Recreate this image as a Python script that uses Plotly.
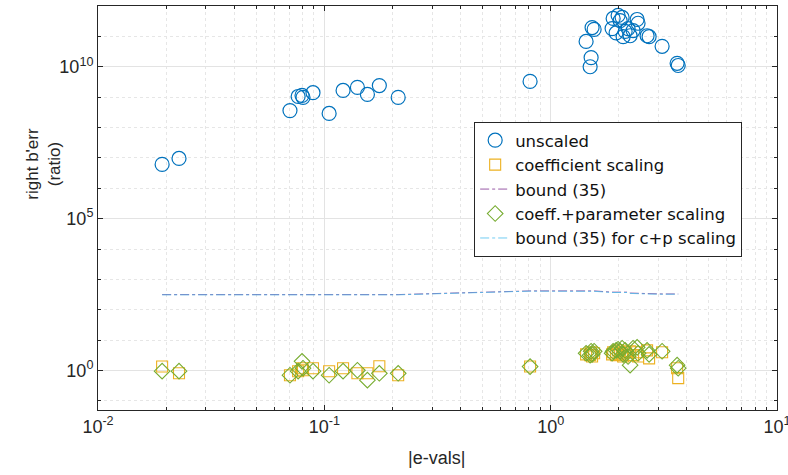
import plotly.graph_objects as go

# eigenvalue magnitudes (|e-vals|)
evals = [0.0192, 0.0228,
         0.0705, 0.0766, 0.0797, 0.0805, 0.0891, 0.105, 0.121, 0.140, 0.155, 0.175, 0.212,
         0.811,
         1.434, 1.494, 1.509, 1.524, 1.556, 1.868, 1.888, 1.946, 1.986, 2.027, 2.069, 2.090,
         2.133, 2.198, 2.244, 2.313, 2.410, 2.433, 2.667, 2.722, 3.107, 3.62, 3.66]

unscaled = [6.1e6, 9.6e6,
            3.6e8, 1.05e9, 1.14e9, 9.8e8, 1.4e9, 2.9e8, 1.66e9, 2.09e9, 1.23e9, 2.4e9, 9.8e8,
            3.3e9,
            6.8e10, 1.0e10, 2.0e10, 1.95e11, 1.7e11, 1.8e11, 3.9e11, 1.3e11, 4.9e11, 3.3e11, 4.2e11, 9.8e10,
            1.45e11, 1.8e11, 1.05e11, 1.55e11, 3.6e11, 2.7e11, 1.05e11, 9.8e10, 4.7e10, 1.3e10, 1.1e10]

coef_scaling = [1.35, 0.81,
                0.70, 0.95, 1.19, 1.02, 1.19, 0.95, 1.19, 0.81, 0.81, 1.38, 0.70,
                1.35,
                3.4, 3.2, 4.0, 2.9, 3.7, 3.4, 4.0, 3.2, 4.6, 3.4, 3.7, 2.9,
                4.0, 3.2, 4.3, 3.2, 4.0, 2.9, 4.6, 2.5, 4.0, 1.19, 0.56]

cp_scaling = [0.95, 0.95,
              0.70, 0.95, 2.0, 1.19, 0.95, 0.70, 0.95, 1.02, 0.48, 0.81, 0.81,
              1.35,
              3.7, 3.2, 4.3, 3.4, 4.3, 3.7, 4.3, 4.6, 5.0, 4.3, 5.4, 3.4,
              4.6, 2.9, 1.5, 5.4, 5.8, 3.7, 4.6, 3.4, 4.3, 1.5, 1.19]

bound35 = [316, 316,
           331, 331, 331, 331, 331, 316, 316, 316, 316, 316, 316,
           417,
           417, 417, 417, 417, 417, 380, 380, 380, 380, 380, 380, 380,
           380, 380, 355, 355, 355, 355, 340, 340, 331, 331, 331]

bound35_cp = [310, 310,
              325, 325, 325, 325, 325, 310, 310, 310, 310, 310, 310,
              410,
              410, 410, 410, 410, 405, 370, 370, 370, 370, 370, 370, 370,
              370, 370, 345, 345, 345, 345, 330, 330, 325, 325, 325]

x_tickvals = [0.01, 0.1, 1, 10]
x_ticktext = ["10<sup>-2</sup>", "10<sup>-1</sup>", "10<sup>0</sup>", "10<sup>1</sup>"]
y_tickvals = [1, 1e5, 1e10]
y_ticktext = ["10<sup>0</sup>", "10<sup>5</sup>", "10<sup>10</sup>"]

FONT = "Liberation Sans, Arial, Helvetica, sans-serif"
TXT = "#262626"

fig = go.Figure()
fig.add_trace(go.Scatter(x=evals, y=unscaled, mode="markers", name="unscaled",
                         marker=dict(symbol="circle-open", size=14, color="#0072BD",
                                     line=dict(width=1.2, color="#0072BD"))))
fig.add_trace(go.Scatter(x=evals, y=coef_scaling, mode="markers", name="coefficient scaling",
                         marker=dict(symbol="square-open", size=11, color="#EDB120",
                                     line=dict(width=1.1, color="#EDB120"))))
fig.add_trace(go.Scatter(x=evals, y=bound35, mode="lines", name="bound (35)",
                         line=dict(color="#7E2F8E", width=0.8, dash="dashdot")))
fig.add_trace(go.Scatter(x=evals, y=cp_scaling, mode="markers", name="coeff.+parameter scaling",
                         marker=dict(symbol="diamond-open", size=12, color="#77AC30",
                                     line=dict(width=1.1, color="#77AC30"))))
fig.add_trace(go.Scatter(x=evals, y=bound35_cp, mode="lines", name="bound (35) for c+p scaling",
                         line=dict(color="#4DBEEE", width=0.8, dash="dashdot")))

axis_common = dict(
    showline=True, linecolor=TXT, linewidth=1, mirror="ticks",
    ticks="inside", ticklen=5, tickcolor=TXT,
    gridcolor="#e3e3e3", gridwidth=1, zeroline=False,
    tickfont=dict(family=FONT, size=18, color=TXT),
    automargin=False, ticklabeloverflow="allow",
)

fig.update_xaxes(type="log", range=[-2, 1],
                 tickmode="array", tickvals=x_tickvals, ticktext=x_ticktext,
                 minor=dict(dtick="D1", ticks="inside", ticklen=3, tickcolor=TXT,
                            showgrid=True, gridcolor="#e6e6e6", griddash="dot"),
                 **axis_common)
fig.update_yaxes(type="log", range=[-1.3, 12],
                 tickmode="array", tickvals=y_tickvals, ticktext=y_ticktext,
                 minor=dict(dtick=1, ticks="inside", ticklen=3, tickcolor=TXT,
                            showgrid=True, gridcolor="#e6e6e6", griddash="dot"),
                 **axis_common)

fig.add_annotation(text="|e-vals|", xref="paper", yref="paper", x=0.499, y=-0.119,
                   xanchor="center", yanchor="middle", showarrow=False,
                   font=dict(family=FONT, size=18, color=TXT))
fig.add_annotation(text="right b'err<br>(ratio)", xref="paper", yref="paper", x=-0.08, y=0.609,
                   xanchor="center", yanchor="middle", showarrow=False, textangle=-90,
                   font=dict(family=FONT, size=17, color=TXT))

fig.update_layout(
    width=788, height=475,
    margin=dict(l=98, r=11, t=6, b=65),
    paper_bgcolor="white", plot_bgcolor="white",
    font=dict(family=FONT, size=15, color=TXT),
    legend=dict(x=0.554, y=0.713, xanchor="left", yanchor="top",
                bgcolor="white", bordercolor=TXT, borderwidth=1,
                font=dict(family="DejaVu Sans, Liberation Sans, sans-serif", size=16.5, color="#111111"),
                itemwidth=30, tracegroupgap=0),
    showlegend=True,
)

fig.write_html("out.html", config={"displayModeBar": False},
               post_script="document.body.style.margin='0px';document.body.style.overflow='hidden';")
